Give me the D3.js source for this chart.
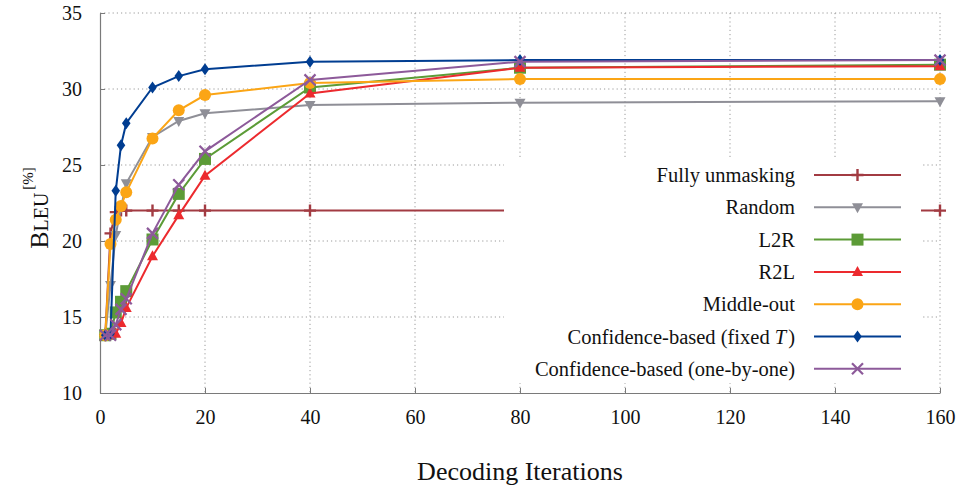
<!DOCTYPE html>
<html>
<head>
<meta charset="utf-8">
<script src="https://cdn.jsdelivr.net/npm/d3@7"></script>
<style>
  body { margin: 0; background: #fff; }
  text { font-family: "Liberation Serif", "DejaVu Serif", serif; fill: #111; }
</style>
</head>
<body>
<div id="chart"></div>
<script>
var margin = {top: 13, right: 16, bottom: 94, left: 100},
    width = 956 - margin.left - margin.right,
    height = 487 - margin.top - margin.bottom;

// decoding iterations (x) and BLEU [%] for every strategy
var iterations     = [1, 2, 3, 4, 5, 10, 15, 20, 40, 80, 160];
var fullyUnmasking = [13.8, 20.5, 21.9, 22.0, 22.0, 22.0, 22.0, 22.0, 22.0, 22.0, 22.0];
var random         = [13.8, 17.1, 20.4, 22.2, 23.8, 26.85, 27.9, 28.4, 28.95, 29.1, 29.2];
var l2r            = [13.8, 13.9, 15.3, 16.0, 16.7, 20.1, 23.1, 25.4, 30.1, 31.4, 31.6];
var r2l            = [13.8, 13.8, 13.9, 14.6, 15.6, 19.0, 21.7, 24.3, 29.7, 31.4, 31.5];
var middleOut      = [13.8, 19.8, 21.4, 22.3, 23.2, 26.75, 28.6, 29.6, 30.4, 30.65, 30.65];
var confFixed      = [13.8, 13.9, 23.3, 26.3, 27.75, 30.1, 30.85, 31.3, 31.8, 31.9, 31.9];
var confOneByOne   = [13.8, 13.8, 14.5, 15.5, 16.2, 20.5, 23.7, 25.9, 30.6, 31.8, 31.9];

var xTicks = [0, 20, 40, 60, 80, 100, 120, 140, 160];
var yTicks = [10, 15, 20, 25, 30, 35];

var series = [
    {name: "Fully unmasking", values: fullyUnmasking, color: "#a23b42", marker: "plus"},
    {name: "Random", values: random, color: "#8f8f97", marker: "triDown"},
    {name: "L2R", values: l2r, color: "#5c9b37", marker: "square"},
    {name: "R2L", values: r2l, color: "#ec2a2e", marker: "triUp"},
    {name: "Middle-out", values: middleOut, color: "#fba515", marker: "circle"},
    {name: "Confidence-based (fixed ", italic: "T", tail: ")", values: confFixed, color: "#003d91", marker: "diamond"},
    {name: "Confidence-based (one-by-one)", values: confOneByOne, color: "#8d5a9a", marker: "cross"}
];

var x = d3.scaleLinear().domain([0, 160]).range([0, width]);
var y = d3.scaleLinear().domain([10, 35]).range([height, 0]);

var svg = d3.select("#chart").append("svg")
    .attr("width", 956)
    .attr("height", 487)
  .append("g")
    .attr("transform", "translate(" + margin.left + "," + margin.top + ")");

// dotted grid
svg.selectAll(".gx").data(xTicks.slice(1)).enter().append("line")
    .attr("x1", function(d){ return x(d); })
    .attr("x2", function(d){ return x(d); })
    .attr("y1", 0).attr("y2", height)
    .attr("stroke", "#9a9a9a").attr("stroke-width", 1)
    .attr("stroke-dasharray", "1.2,3");
svg.selectAll(".gy").data(yTicks.slice(1)).enter().append("line")
    .attr("x1", 0).attr("x2", width)
    .attr("y1", function(d){ return y(d); })
    .attr("y2", function(d){ return y(d); })
    .attr("stroke", "#9a9a9a").attr("stroke-width", 1)
    .attr("stroke-dasharray", "1.2,3");

// axes, ticks point inwards
var xAxis = svg.append("g")
    .attr("transform", "translate(0," + height + ")")
    .call(d3.axisBottom(x).tickValues(xTicks).tickSizeInner(-5).tickSizeOuter(0).tickPadding(17));
var yAxis = svg.append("g")
    .call(d3.axisLeft(y).tickValues(yTicks).tickSizeInner(-5).tickSizeOuter(0).tickPadding(18));
[xAxis, yAxis].forEach(function(a){
    a.select(".domain").attr("stroke", "#7a7a7a").attr("stroke-width", 1.2);
    a.selectAll(".tick line").attr("stroke", "#7a7a7a").attr("stroke-width", 1);
    a.selectAll(".tick text")
        .attr("font-family", "Liberation Serif")
        .attr("font-size", "20px")
        .attr("fill", "#111");
});

var line = d3.line()
    .x(function(d){ return x(d[0]); })
    .y(function(d){ return y(d[1]); });

function drawMarker(g, type, color) {
    if (type == "plus") {
        g.append("path").attr("d", "M-6,0H6M0,-6V6")
            .attr("stroke", color).attr("stroke-width", 2.4).attr("fill", "none");
    } else if (type == "cross") {
        g.append("path").attr("d", "M-5.5,-5.5L5.5,5.5M-5.5,5.5L5.5,-5.5")
            .attr("stroke", color).attr("stroke-width", 2.2).attr("fill", "none");
    } else if (type == "square") {
        g.append("rect").attr("x", -6).attr("y", -6).attr("width", 12).attr("height", 12)
            .attr("fill", color);
    } else if (type == "circle") {
        g.append("circle").attr("r", 6).attr("fill", color);
    } else if (type == "diamond") {
        g.append("path").attr("d", "M0,-6L4.3,0L0,6L-4.3,0Z").attr("fill", color);
    } else if (type == "triUp") {
        g.append("path").attr("d", "M0,-6L5.5,4L-5.5,4Z").attr("fill", color);
    } else if (type == "triDown") {
        g.append("path").attr("d", "M0,6L5.5,-4L-5.5,-4Z").attr("fill", color);
    }
}

series.forEach(function(s){
    var pts = iterations.map(function(it, i){ return [it, s.values[i]]; });
    svg.append("path")
        .datum(pts)
        .attr("d", line)
        .attr("fill", "none")
        .attr("stroke", s.color)
        .attr("stroke-width", 2);
    pts.forEach(function(p){
        var g = svg.append("g").attr("transform", "translate(" + x(p[0]) + "," + y(p[1]) + ")");
        drawMarker(g, s.marker, s.color);
    });
});

// legend with white box that hides what is behind it
var legend = svg.append("g").attr("transform", "translate(" + (504 - margin.left) + "," + (157 - margin.top) + ")");
legend.append("rect")
    .attr("x", 0).attr("y", 0)
    .attr("width", 417).attr("height", 226)
    .attr("fill", "#fff");
series.forEach(function(s, i){
    var row = legend.append("g").attr("transform", "translate(0," + (18 + i * 32.3) + ")");
    var t = row.append("text")
        .attr("x", 291).attr("y", 7)
        .attr("text-anchor", "end")
        .attr("font-size", "20.5px")
        .text(s.name);
    if (s.italic) {
        t.append("tspan").attr("font-style", "italic").text(s.italic);
        t.append("tspan").attr("dx", 2).text(s.tail);
    }
    row.append("line")
        .attr("x1", 310).attr("x2", 397)
        .attr("y1", 0).attr("y2", 0)
        .attr("stroke", s.color).attr("stroke-width", 2);
    var m = row.append("g").attr("transform", "translate(353.5,0)");
    drawMarker(m, s.marker, s.color);
});

// axis titles
svg.append("text")
    .attr("x", width / 2)
    .attr("y", height + 87)
    .attr("text-anchor", "middle")
    .attr("font-size", "26px")
    .text("Decoding Iterations");

var yl = svg.append("text")
    .attr("transform", "translate(" + (48 - margin.left) + "," + (208 - margin.top) + ") rotate(-90)")
    .attr("text-anchor", "middle");
yl.append("tspan").attr("font-size", "26px").text("B");
yl.append("tspan").attr("font-size", "20px").text("LEU");
yl.append("tspan").attr("font-size", "15px").attr("dy", -15).attr("dx", 3).text("[%]");
</script>
</body>
</html>
